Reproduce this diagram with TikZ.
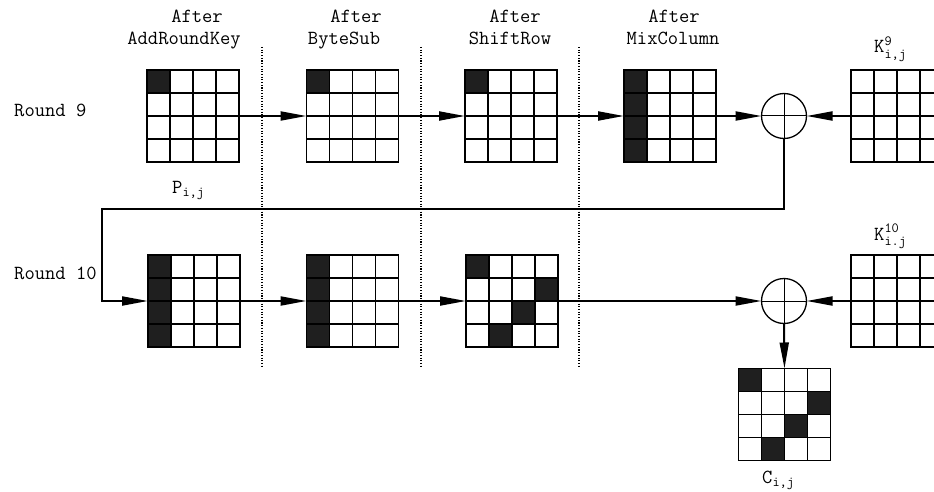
\documentclass[tikz,border=0pt]{standalone}
\usepackage{amsmath}
\usepackage{fontspec}
\usetikzlibrary{arrows.meta,calc}

\tikzset{
  x=1pt, y=-1pt,
  stateslot/.style={minimum size=92pt, inner sep=0pt, outer sep=0pt},
  stateframe/.style={line width=1.6pt},
  cellline/.style={line width=1.3pt},
  cellfill/.style={fill=black!88},
  lbl/.style={font=\ttfamily\fontsize{20}{23}\selectfont, inner sep=0pt, anchor=base},
  flow/.style={line width=2pt, -{Triangle[length=26pt,width=9pt]}},
  xorop/.style={circle, draw, line width=1.3pt, minimum size=45pt, inner sep=0pt, outer sep=0pt},
  stage/.style={line width=1.1pt, dash pattern=on 1.1pt off 1.6pt}
}

% dark bytes of a 4x4 state, given as column/row pairs
\newcommand\statecells[2]{%
  \foreach \c/\r in {#2}{
    \fill[cellfill] ($(#1.north west)+(\c*23,\r*23)$) rectangle +(23,23);}}
% cell rules and outer frame of a 4x4 state
\newcommand\statelines[1]{%
  \foreach \k in {1,2,3}{
    \draw[cellline] ($(#1.north west)+(\k*23,0)$) -- +(0,92);
    \draw[cellline] ($(#1.north west)+(0,\k*23)$) -- +(92,0);}
  \draw[stateframe] (#1.north west) rectangle (#1.south east);}
\newcommand\xorsign[1]{%
  \draw[line width=1pt] (#1.north) -- (#1.south) (#1.west) -- (#1.east);}

\begin{document}
\begin{tikzpicture}
  \useasboundingbox (0,0) rectangle (934,492);
  \clip (0,0) rectangle (934,492);

  % stage separators
  \foreach \sx in {262,421,579}{
    \draw[stage] (\sx,47) -- (\sx,368);}

  % column headings
  \node[lbl] (h1a) at (197,23) {After};
  \node[lbl] (h1b) at (184,45) {AddRoundKey};
  \node[lbl] (h2a) at (356,23) {After};
  \node[lbl] (h2b) at (344,45) {ByteSub};
  \node[lbl] (h3a) at (515,23) {After};
  \node[lbl] (h3b) at (510,45) {ShiftRow};
  \node[lbl] (h4a) at (674,23) {After};
  \node[lbl] (h4b) at (673,45) {MixColumn};
  \node[lbl, anchor=base west] (k9lbl) at (874,53)
    {K$^{\text{\ttfamily 9}}_{\text{\ttfamily i,j}}$};
  \node[lbl, anchor=base west] (k10lbl) at (874,240)
    {K$^{\text{\ttfamily 10}}_{\text{\ttfamily i.j}}$};

  % round labels
  \node[lbl, anchor=base west] (r9) at (14,117) {Round 9};
  \node[lbl, anchor=base west] (r10) at (14,279) {Round 10};

  % round 9 states
  \node[stateslot] (s1) at (193,116) {};
  \node[stateslot] (s2) at (352.5,116) {};
  \node[stateslot] (s3) at (511,116) {};
  \node[stateslot] (s4) at (670,116) {};
  \node[stateslot] (k9) at (897,116) {};
  \node[xorop] (x9) at (784,116) {};

  % round 10 states
  \node[stateslot] (t1) at (194,301) {};
  \node[stateslot] (t2) at (352.5,301) {};
  \node[stateslot] (t3) at (512,301) {};
  \node[stateslot] (k10) at (897,301) {};
  \node[xorop] (x10) at (784,301) {};
  \node[stateslot] (out) at (784.5,414.5) {};

  \statecells{s1}{0/0}
  \statecells{s2}{0/0}
  \statecells{s3}{0/0}
  \statecells{s4}{0/0,0/1,0/2,0/3}
  \statecells{t1}{0/0,0/1,0/2,0/3}
  \statecells{t2}{0/0,0/1,0/2,0/3}
  \statecells{t3}{0/0,3/1,2/2,1/3}
  \statecells{out}{0/0,3/1,2/2,1/3}
  \foreach \s in {s1,s2,s3,s4,k9,t1,t2,t3,k10,out}{
    \statelines{\s}}
  \xorsign{x9}
  \xorsign{x10}

  % state names
  \node[lbl, anchor=base west] (plbl) at (172,193)
    {P$_{\text{\ttfamily i,j}}$};
  \node[lbl, anchor=base west] (clbl) at (762,483)
    {C$_{\text{\ttfamily i,j}}$};

  % data flow
  \coordinate (loop) at (102,209);
  \draw[flow] (s1.east) -- (s2.west);
  \draw[flow] (s2.east) -- (s3.west);
  \draw[flow] (s3.east) -- (s4.west);
  \draw[flow] (s4.east) -- (x9.west);
  \draw[flow] (k9.west) -- (x9.east);
  \draw[flow] (x9.south) |- (loop) |- (t1.west);
  \draw[flow] (t1.east) -- (t2.west);
  \draw[flow] (t2.east) -- (t3.west);
  \draw[flow] (t3.east) -- (x10.west);
  \draw[flow] (k10.west) -- (x10.east);
  \draw[flow] (x10.south) -- (out.north);
\end{tikzpicture}
\end{document}
